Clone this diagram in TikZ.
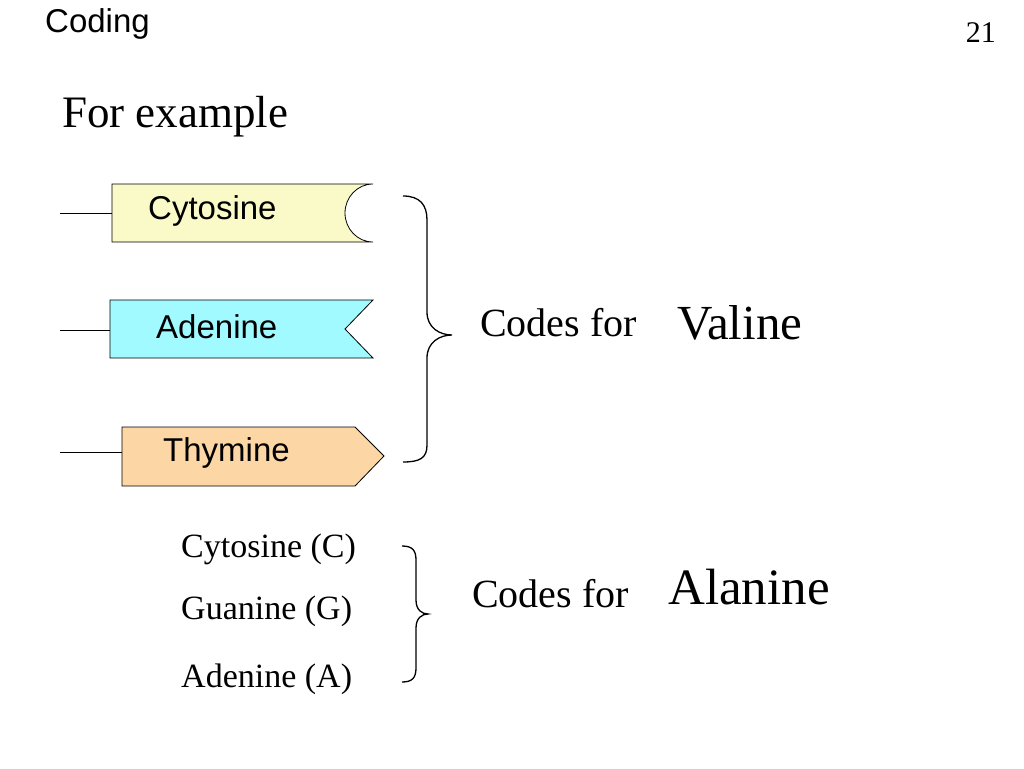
\documentclass[tikz,border=0pt]{standalone}
\usepackage{fontspec}
\setmainfont{Liberation Serif}
\setsansfont{Liberation Sans}
\definecolor{cytfill}{RGB}{250,250,200}
\definecolor{adefill}{RGB}{160,250,255}
\definecolor{thyfill}{RGB}{252,214,164}
\tikzset{
  sanslabel/.style={anchor=base west, inner sep=0pt, font=\sffamily\fontsize{33}{36}\selectfont},
  seriflabel/.style={anchor=base west, inner sep=0pt, font=\fontsize{34}{38}\selectfont},
  brc/.style={line width=1.3pt},
  base/.style={line width=0.8pt}
}
\begin{document}
\begin{tikzpicture}[x=1pt, y=-1pt]
        \useasboundingbox (0,0) rectangle (1024,768);
        % Header
        \node (title) [anchor=base west, inner sep=0pt, font=\sffamily\fontsize{33}{36}\selectfont] at (45,33) {Coding};
        \node (page) [anchor=base east, inner sep=0pt, font=\fontsize{30}{34}\selectfont] at (996,43) {21};
        \node (intro) [anchor=base west, inner sep=0pt, font=\fontsize{45}{48}\selectfont] at (62,127) {For example};

        % Bases
        \draw [base, fill=cytfill] (373,242) -- (112,242) -- (112,184) -- (373,184)
              arc[start angle=270, end angle=90, x radius=28, y radius=29];
        \draw [base] (60,213) -- (112,213);
        \draw [base, fill=adefill] (110,300) -- (373,300) -- (345,329) -- (373,358) -- (110,358) -- cycle;
        \draw [base] (60,330) -- (110,330);
        \draw [base, fill=thyfill] (122,427) -- (355,427) -- (384,456) -- (355,486) -- (122,486) -- cycle;
        \draw [base] (60,452) -- (122,452);
        \node (cyt) [sanslabel] at (148,219) {Cytosine};
        \node (ade) [sanslabel] at (156,338) {Adenine};
        \node (thy) [sanslabel] at (163,461) {Thymine};

        % Valine
        \draw [brc] (403,196) .. controls (420,196) and (427,205) .. (427,220) -- (427,312)
              .. controls (427,328) and (440,335) .. (452,335)
              .. controls (440,335) and (427,342) .. (427,358) -- (427,445)
              .. controls (427,458) and (420,462) .. (403,462);
        \node (codes1) [anchor=base west, inner sep=0pt, font=\fontsize{40}{44}\selectfont] at (480,336) {Codes for};
        \node (valine) [anchor=base west, inner sep=0pt, font=\fontsize{49}{52}\selectfont] at (677,339) {Valine};

        % Alanine
        \node (c) [seriflabel] at (181,557) {Cytosine (C)};
        \node (g) [seriflabel] at (181,619) {Guanine (G)};
        \node (a) [seriflabel] at (181,687) {Adenine (A)};
        \draw [brc] (402,546) .. controls (412,546) and (416,550) .. (416,560) -- (416,600)
              .. controls (416,610) and (422,614) .. (428,614)
              .. controls (422,614) and (416,618) .. (416,628) -- (416,668)
              .. controls (416,678) and (412,682) .. (402,682);
        \node (codes2) [anchor=base west, inner sep=0pt, font=\fontsize{40}{44}\selectfont] at (472,607) {Codes for};
        \node (alanine) [anchor=base west, inner sep=0pt, font=\fontsize{51}{55}\selectfont] at (668,604) {Alanine};
\end{tikzpicture}
\end{document}
